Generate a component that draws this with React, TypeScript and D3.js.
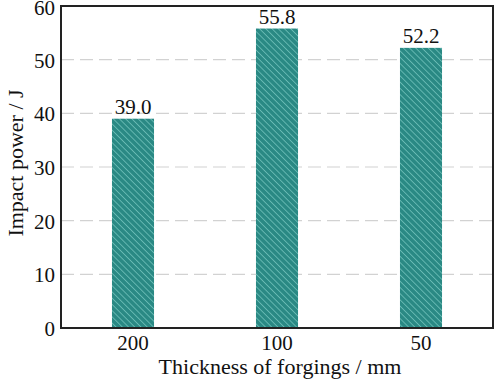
import React from "react";
import * as d3 from "d3";

const categories = ["200", "100", "50"];
const values = [39.0, 55.8, 52.2];
const labels = ["39.0", "55.8", "52.2"];
const yTicks = [0, 10, 20, 30, 40, 50, 60];

const W = 496, H = 382;
const M = { left: 61, right: 3, top: 6, bottom: 54 };
const font = "Liberation Serif, Times New Roman, serif";
const tStyle: React.CSSProperties = { fontFamily: font, fontSize: "21px" };

export default function App() {
  const x = d3.scaleBand<string>().domain(categories).range([M.left, W - M.right]).paddingInner(0.708).paddingOuter(0.354);
  const y = d3.scaleLinear().domain([0, 60]).range([H - M.bottom, M.top]);
  return (
    <svg width={W} height={H} style={{ position: "absolute", left: 0, top: 0, background: "#fff" }}>
      <defs>
        <pattern id="hatch" patternUnits="userSpaceOnUse" width={4.4} height={4.4} patternTransform="rotate(-45)">
          <rect width={4.4} height={4.4} fill="#2a8984" />
          <line x1={0} y1={0} x2={0} y2={4.4} stroke="#86d3cb" strokeWidth={1.2} />
        </pattern>
      </defs>
      {yTicks.filter(t => t > 0 && t < 60).map(t => (
        <line key={t} x1={M.left} x2={W - M.right} y1={y(t)} y2={y(t)} stroke="#d2d2d2" strokeWidth={1.2} strokeDasharray="13 6" />
      ))}
      {categories.map((c, i) => (
        <g key={c}>
          <rect x={x(c)} y={y(values[i])} width={x.bandwidth()} height={y(0) - y(values[i])} fill="url(#hatch)" />
          <text x={x(c)! + x.bandwidth() / 2} y={y(values[i]) - 5} textAnchor="middle" style={tStyle} fill="#111">{labels[i]}</text>
          <text x={x(c)! + x.bandwidth() / 2} y={y(0) + 22} textAnchor="middle" style={tStyle} fill="#111">{c}</text>
        </g>
      ))}
      {yTicks.map(t => (
        <text key={t} x={M.left - 6} y={Math.max(y(t) + 8, 15)} textAnchor="end" style={tStyle} fill="#111">{t}</text>
      ))}
      <rect x={M.left} y={M.top} width={W - M.right - M.left} height={H - M.bottom - M.top} fill="none" stroke="#222" strokeWidth={2} />
      <text x={280} y={374} textAnchor="middle" style={{ ...tStyle, fontSize: "22px" }} fill="#111">Thickness of forgings / mm</text>
      <text transform={`translate(23, 163) rotate(-90)`} textAnchor="middle" style={{ ...tStyle, fontSize: "22px" }} fill="#111">Impact power / J</text>
    </svg>
  );
}
